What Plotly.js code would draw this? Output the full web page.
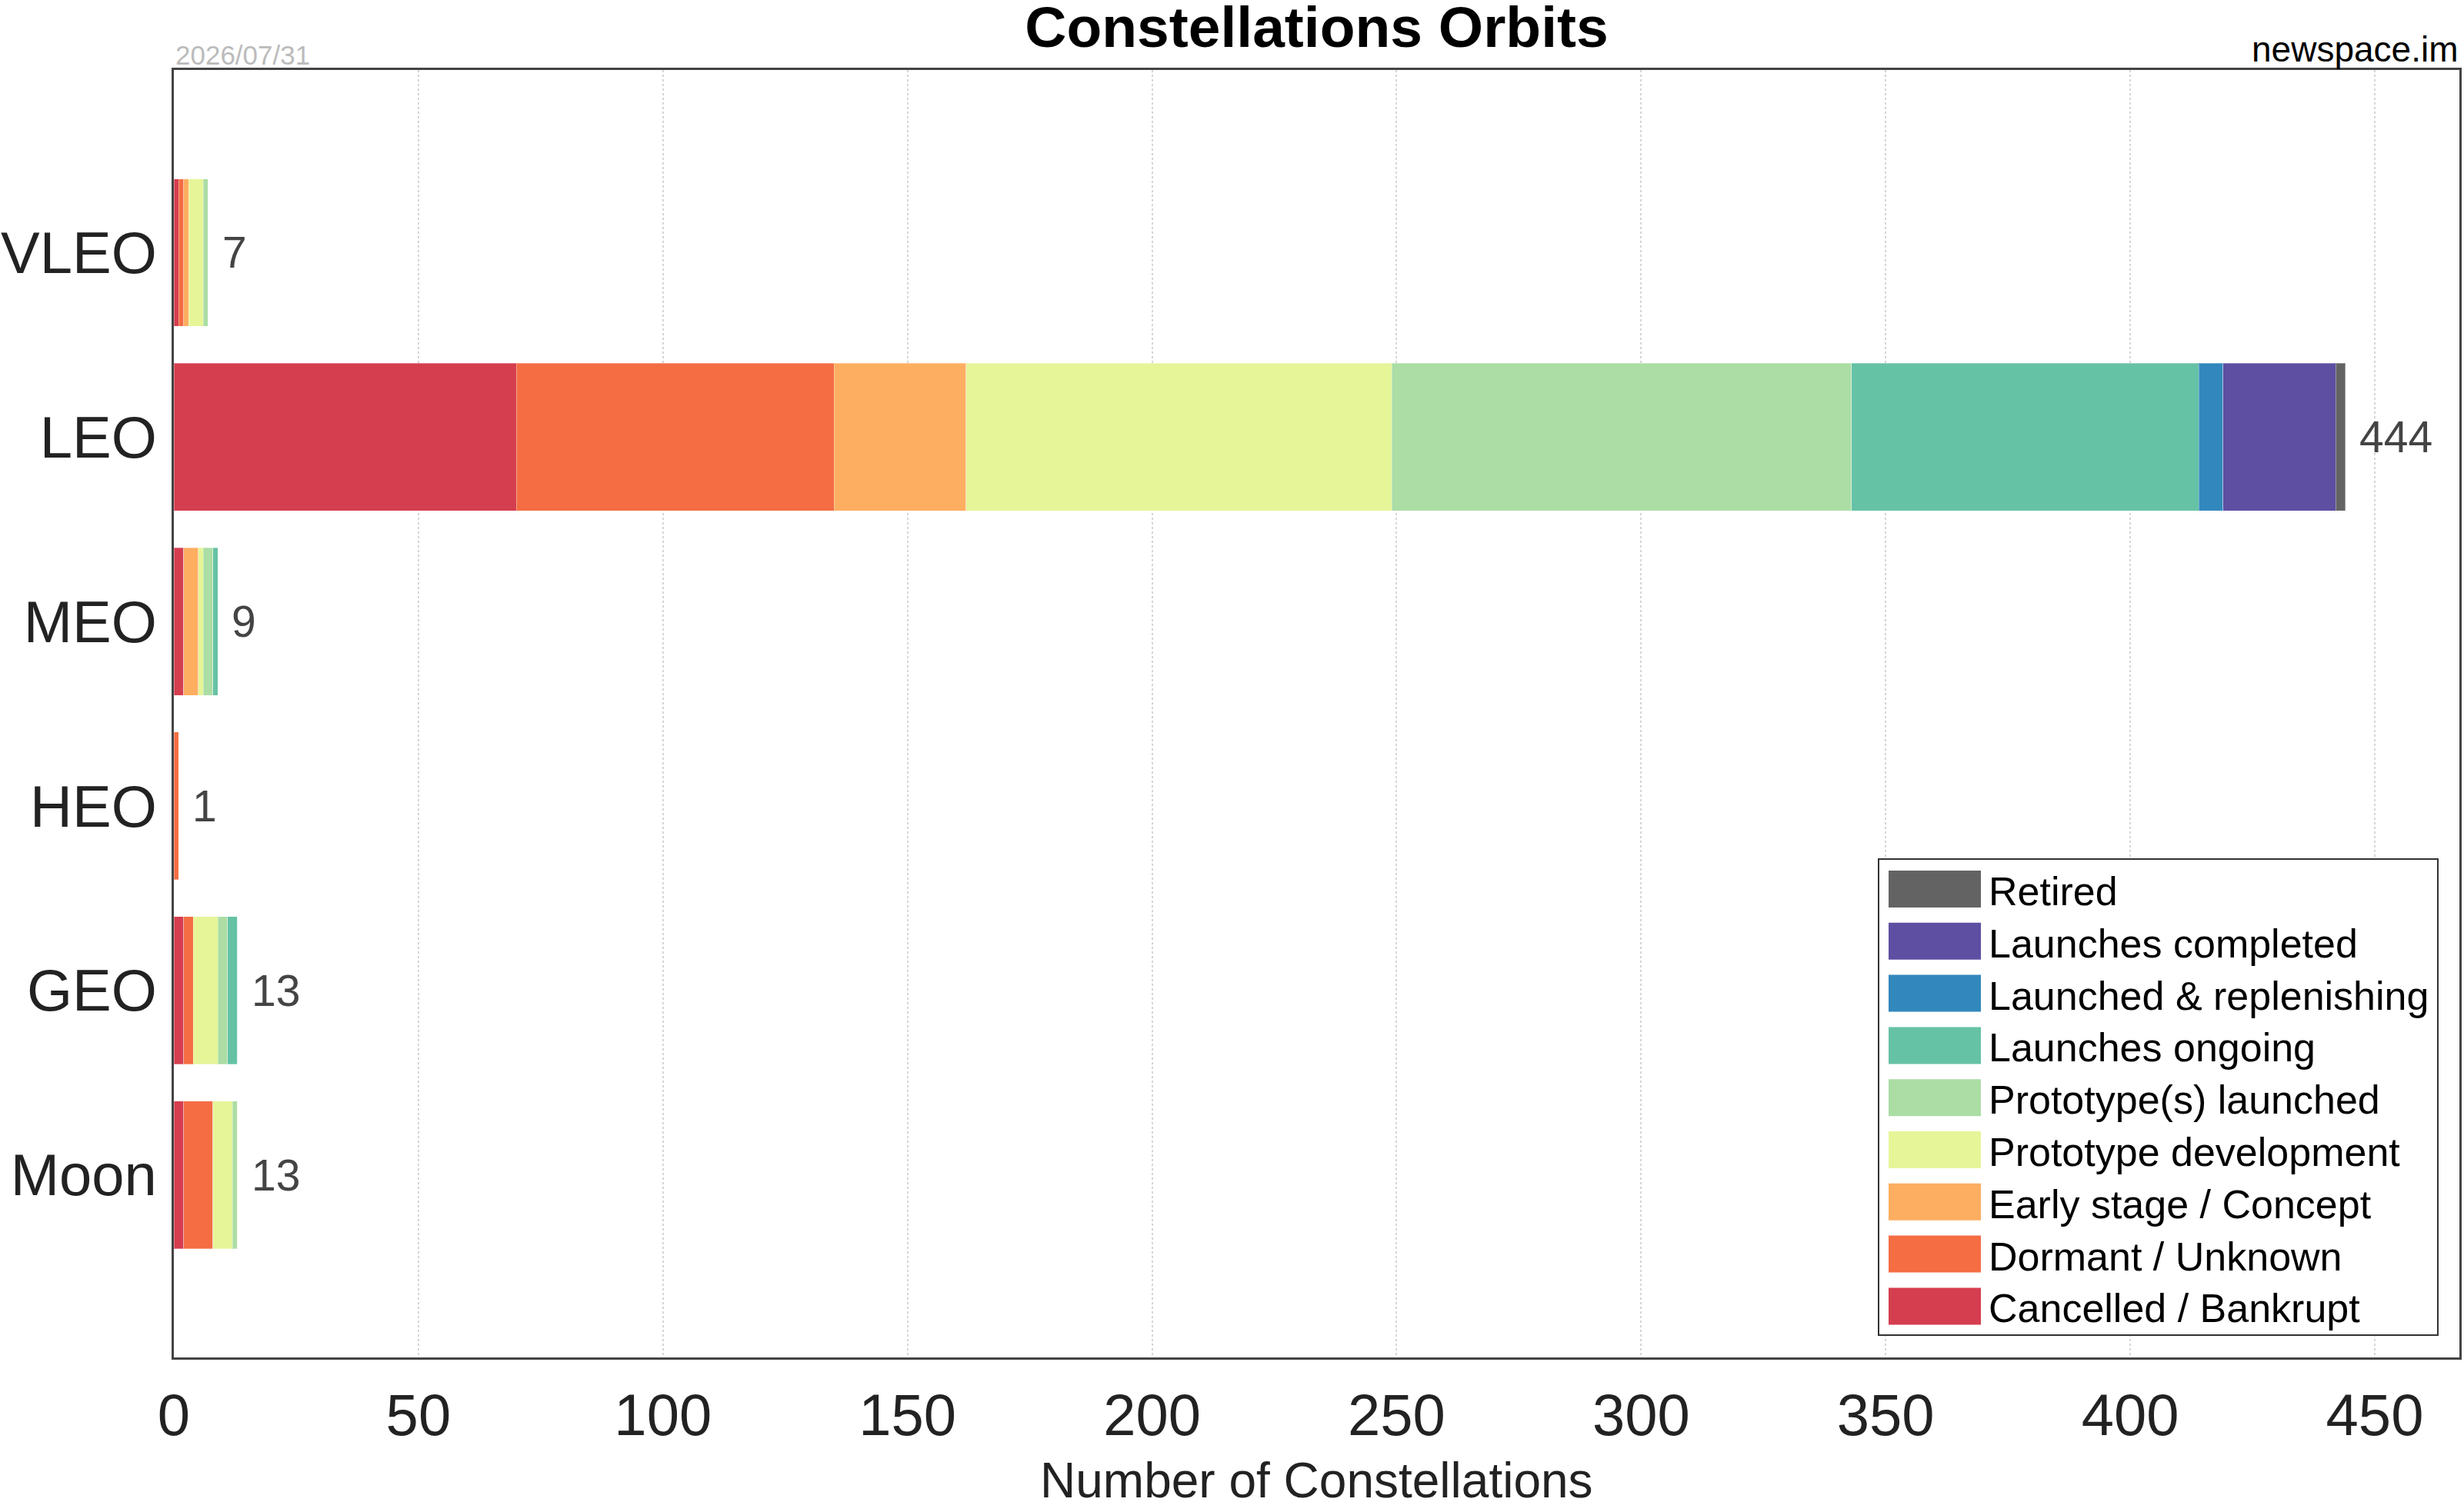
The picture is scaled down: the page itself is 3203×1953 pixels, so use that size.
<!DOCTYPE html>
<html>
<head>
<meta charset="utf-8">
<script src="https://cdn.plot.ly/plotly-3.0.1.min.js"></script>
<style>
  html, body { margin: 0; padding: 0; background: #fff; }
  #chart { width: 3203px; height: 1953px; }
</style>
</head>
<body>
<div id="chart"></div>
<script>
"use strict";

// ----------------------------
// data
// ----------------------------
const ORBITS = ["VLEO", "LEO", "MEO", "HEO", "GEO", "Moon"];

const STATUS = [
  "Cancelled / Bankrupt",
  "Dormant / Unknown",
  "Early stage / Concept",
  "Prototype development",
  "Prototype(s) launched",
  "Launches ongoing",
  "Launched & replenishing",
  "Launches completed",
  "Retired",
];

const cancelled     = [1, 70, 2, 0, 2, 2];
const dormant       = [1, 65, 0, 1, 2, 6];
const earlyStage    = [1, 27, 3, 0, 0, 0];
const protoDev      = [3, 87, 1, 0, 5, 4];
const protoLaunched = [1, 94, 2, 0, 2, 1];
const ongoing       = [0, 71, 1, 0, 2, 0];
const replenishing  = [0, 5, 0, 0, 0, 0];
const completed     = [0, 23, 0, 0, 0, 0];
const retired       = [0, 2, 0, 0, 0, 0];

const SERIES = [cancelled, dormant, earlyStage, protoDev, protoLaunched,
                ongoing, replenishing, completed, retired];

const COLORS = ["#d53e4f", "#f46d43", "#fdae61", "#e6f598", "#abdda4",
                "#66c2a5", "#3288bd", "#5e4fa2", "#636363"];

const DATE_LABEL = "2026/07/31";
const SOURCE_LABEL = "newspace.im";
const X_TITLE = "Number of Constellations";

// ----------------------------
// page geometry (pixels)
// ----------------------------
const W = 3203, H = 1953;
const M = { l: 226, r: 6, t: 91, b: 188 };
const PW = W - M.l - M.r;
const PH = H - M.t - M.b;
const FONT = "Arial, 'Liberation Sans', sans-serif";

// pixel -> paper helpers
const px = (x) => (x - M.l) / PW;
const py = (y) => (H - M.b - y) / PH;

const totals = ORBITS.map((_, i) => SERIES.reduce((s, arr) => s + arr[i], 0));

const data = SERIES.map((vals, k) => ({
  type: "bar",
  orientation: "h",
  name: STATUS[k],
  y: ORBITS,
  x: vals,
  marker: { color: COLORS[k], line: { width: 1, color: "rgba(255,255,255,0.35)" } },
  hovertemplate: "%{y}: %{x}<extra>" + STATUS[k] + "</extra>",
}));

// totals at bar ends
const annotations = ORBITS.map((o, i) => ({
  x: totals[i], y: o, xref: "x", yref: "y",
  text: String(totals[i]),
  showarrow: false, xanchor: "left", xshift: 16,
  font: { family: FONT, size: 57, color: "#444" },
}));

annotations.push({
  x: 0, y: py(83), xref: "paper", yref: "paper",
  text: DATE_LABEL, showarrow: false, xanchor: "left", yanchor: "bottom",
  yshift: -10,
  font: { family: FONT, size: 35, color: "#bbbbbb" },
});
annotations.push({
  x: 1, y: py(71), xref: "paper", yref: "paper",
  text: SOURCE_LABEL, showarrow: false, xanchor: "right", yanchor: "bottom",
  yshift: -21,
  font: { family: FONT, size: 46, color: "#000" },
});
// x axis title sits lower than plotly's margin-constrained title can go
annotations.push({
  x: 0.5, y: py(H), xref: "paper", yref: "paper",
  text: X_TITLE, showarrow: false, xanchor: "center", yanchor: "bottom",
  yshift: -10,
  font: { family: FONT, size: 64, color: "#222" },
});

// custom legend (large swatches), Retired on top
const shapes = [{
  type: "rect", xref: "paper", yref: "paper",
  x0: px(2442), x1: px(3169), y0: py(1736), y1: py(1117),
  line: { color: "#333", width: 2 }, fillcolor: "#fff", layer: "above",
}];
for (let r = 0; r < STATUS.length; r++) {
  const k = STATUS.length - 1 - r;
  const cy = 1156 + 67.8 * r;
  shapes.push({
    type: "rect", xref: "paper", yref: "paper",
    x0: px(2455), x1: px(2575), y0: py(cy + 24), y1: py(cy - 24),
    line: { width: 0 }, fillcolor: COLORS[k], layer: "above",
  });
  annotations.push({
    x: px(2583), y: py(cy + 3), xref: "paper", yref: "paper",
    text: STATUS[k], showarrow: false, xanchor: "left", yanchor: "middle",
    font: { family: FONT, size: 52, color: "#000" },
  });
}

const layout = {
  width: W, height: H,
  margin: M,
  paper_bgcolor: "#fff", plot_bgcolor: "#fff",
  barmode: "stack", bargap: 0.2,
  showlegend: false,
  font: { family: FONT, color: "#222" },
  title: {
    text: "<b>Constellations Orbits</b>",
    x: 0.5, xref: "paper", y: 1 - 35 / H, yanchor: "middle",
    font: { family: FONT, size: 75, color: "#000" },
  },
  xaxis: {
    range: [0, 467.3],
    dtick: 50, tick0: 0,
    showgrid: true, gridcolor: "#d6d6d6", gridwidth: 2, griddash: "dot",
    zeroline: false,
    showline: true, mirror: true, linecolor: "#444", linewidth: 3,
    ticks: "", ticklabelstandoff: 7,
    tickfont: { family: FONT, size: 76, color: "#222" },
    automargin: false,
  },
  yaxis: {
    type: "category",
    categoryorder: "array", categoryarray: ORBITS,
    range: [5.99, -0.99],
    showgrid: false, zeroline: false,
    showline: true, mirror: true, linecolor: "#444", linewidth: 3,
    ticks: "", ticklabelstandoff: 4,
    tickfont: { family: FONT, size: 76, color: "#222" },
    automargin: false,
  },
  shapes,
  annotations,
};

Plotly.newPlot("chart", data, layout, { displayModeBar: false, staticPlot: true });
</script>
</body>
</html>
